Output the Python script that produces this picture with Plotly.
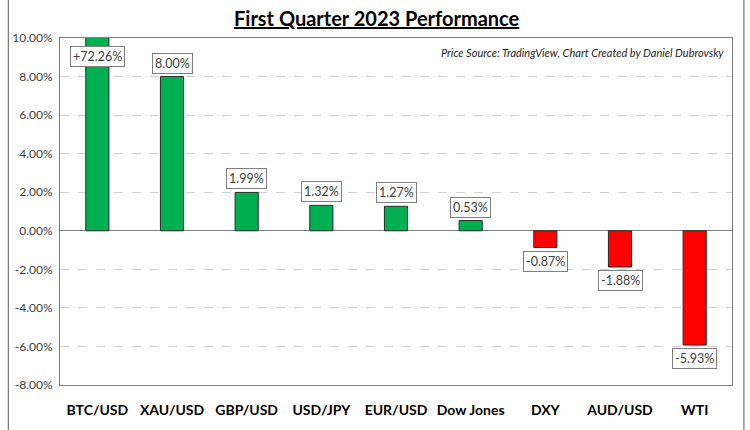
import plotly.graph_objects as go

categories = ["BTC/USD", "XAU/USD", "GBP/USD", "USD/JPY", "EUR/USD", "Dow Jones", "DXY", "AUD/USD", "WTI"]
returns_pct = [72.26, 8.00, 1.99, 1.32, 1.27, 0.53, -0.87, -1.88, -5.93]
label_texts = ["+72.26%", "8.00%", "1.99%", "1.32%", "1.27%", "0.53%", "-0.87%", "-1.88%", "-5.93%"]
y_tick_vals = [-8, -6, -4, -2, 0, 2, 4, 6, 8, 10]
y_tick_text = ["-8.00%", "-6.00%", "-4.00%", "-2.00%", "0.00%", "2.00%", "4.00%", "6.00%", "8.00%", "10.00%"]

Y_MIN, Y_MAX = -8, 10
W, H = 750, 430
L, R, T, B = 56, 18, 38, 43
FONT = "Lato"

colors = ["#00B050" if v >= 0 else "#FF0000" for v in returns_pct]

fig = go.Figure()
fig.add_trace(go.Bar(
    x=categories, y=returns_pct,
    marker=dict(color=colors, line=dict(color="#2b2b2b", width=1)),
    width=0.31,
    hoverinfo="x+y",
))

annotations = []
for c, v, t in zip(categories, returns_pct, label_texts):
    if v > Y_MAX:
        y, ya, ys = Y_MAX, "top", -8
    elif v >= 0:
        y, ya, ys = v, "bottom", 3
    else:
        y, ya, ys = v, "top", -3
    annotations.append(dict(
        x=c, y=y, xref="x", yref="y", text=t, showarrow=False,
        yanchor=ya, yshift=ys,
        font=dict(family=FONT, size=12.5, color="#404040"),
        bgcolor="white", bordercolor="#7f7f7f", borderwidth=1, borderpad=2,
    ))

plot_w = W - L - R
annotations.append(dict(
    x=(W / 2 - L) / plot_w, y=1, xref="paper", yref="paper", yshift=20, yanchor="middle",
    text="<b><u>First Quarter 2023 Performance</u></b>", showarrow=False,
    font=dict(family=FONT, size=20, color="black"),
))
annotations.append(dict(
    x=1, y=1, xref="paper", yref="paper", xanchor="right", yanchor="top",
    xshift=-6, yshift=-6,
    text="<i>Price Source: TradingView, Chart Created by Daniel Dubrovsky</i>", showarrow=False,
    font=dict(family=FONT, size=11, color="#262626"),
))

fig.update_layout(
    width=W, height=H,
    margin=dict(l=L, r=R, t=T, b=B),
    paper_bgcolor="white", plot_bgcolor="white",
    showlegend=False,
    annotations=annotations,
    shapes=[dict(type="rect", xref="paper", yref="paper",
                 x0=(4 - L) / plot_w, x1=(744 - L) / plot_w, y0=-0.5, y1=1.5,
                 line=dict(color="#595959", width=1), layer="below")],
    xaxis=dict(
        showgrid=False, showline=True, mirror=True, linecolor="#7f7f7f", linewidth=1,
        ticks="", ticklabelstandoff=12,
        tickfont=dict(family=FONT, size=14, color="black", weight="bold"),
    ),
    yaxis=dict(
        range=[Y_MIN, Y_MAX], tickvals=y_tick_vals, ticktext=y_tick_text,
        showgrid=True, gridcolor="#d0d0d0", griddash="dash", gridwidth=1,
        zeroline=True, zerolinecolor="#7f7f7f", zerolinewidth=1,
        showline=True, mirror=True, linecolor="#7f7f7f", linewidth=1,
        ticks="", ticklabelstandoff=4,
        tickfont=dict(family=FONT, size=12, color="#404040"),
    ),
)

fig.write_html("out.html", config={"displayModeBar": False},
               post_script="document.body.style.margin='0';")
